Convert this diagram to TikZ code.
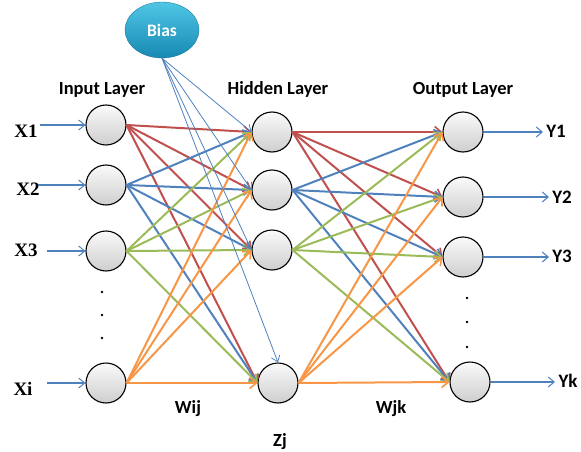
\documentclass[tikz,border=0pt]{standalone}
\usepackage{fontspec}
\setmainfont{Carlito}
\newfontfamily\tnr{Liberation Serif}
\usetikzlibrary{arrows.meta,shapes.geometric}
\definecolor{cred}{HTML}{C0504D}
\definecolor{cblue}{HTML}{4F81BD}
\definecolor{cgreen}{HTML}{9BBB59}
\definecolor{corange}{HTML}{F79646}
\definecolor{biastop}{HTML}{4FC6E6}
\definecolor{biasbot}{HTML}{1789B2}
\begin{document}
\begin{tikzpicture}[x=1pt,y=-1pt,
  neuron/.style={circle, draw=black, line width=1.1pt, minimum size=40pt, inner sep=0pt, top color=gray!4, bottom color=gray!38},
  wedge/.style={line width=2pt, -{Straight Barb[length=6.5pt,width=11pt,line width=1.6pt]}},
  biasline/.style={cblue, line width=0.8pt, -{Straight Barb[length=6pt,width=9pt,line width=0.8pt]}},
  ioline/.style={cblue, line width=1.1pt, -{Straight Barb[length=6pt,width=10pt,line width=1pt]}},
  title/.style={anchor=base, font=\bfseries\fontsize{18.5}{20}\selectfont, inner sep=0pt},
  xlab/.style={font=\tnr\bfseries\fontsize{19}{20}\selectfont, inner sep=0pt},
  ylab/.style={font=\bfseries\fontsize{19}{20}\selectfont, inner sep=0pt},
  vdot/.style={circle, fill=black, inner sep=0pt, minimum size=2.8pt}]
\useasboundingbox (0,0) rectangle (581,452);
% neurons
\node[neuron] (i1) at (106,125) {};
\node[neuron] (i2) at (106,185) {};
\node[neuron] (i3) at (106,251) {};
\node[neuron] (i4) at (106,383) {};
\node[neuron] (h1) at (272,132) {};
\node[neuron] (h2) at (272,190) {};
\node[neuron] (h3) at (272,250) {};
\node[neuron] (h4) at (278,383) {};
\node[neuron] (o1) at (463,132) {};
\node[neuron] (o2) at (463,197) {};
\node[neuron] (o3) at (463,257) {};
\node[neuron] (o4) at (470,382) {};
% bias
\node[ellipse, minimum width=74pt, minimum height=56pt, inner sep=0pt, top color=biastop, bottom color=biasbot, draw=biasbot!80!black, line width=0.3pt, text=white, font=\bfseries\fontsize{17.5}{18}\selectfont] (bias) at (162,30) {Bias};
% dots
\node[vdot] (d1) at (102,292) {};
\node[vdot] (d2) at (102,315) {};
\node[vdot] (d3) at (102,338) {};
\node[vdot] (e1) at (467,298) {};
\node[vdot] (e2) at (467,322) {};
\node[vdot] (e3) at (467,347) {};
% titles
\node[title] (tin) at (102,95) {Input Layer};
\node[title] (thid) at (278,95) {Hidden Layer};
\node[title] (tout) at (463,95) {Output Layer};
\node[title] (wij) at (188,413) {Wij};
\node[title] (wjk) at (391,413) {Wjk};
\node[title] (zj) at (280,446) {Zj};
% input labels
\node[xlab] (x1) at (26,131) {X1};
\node[xlab] (x2) at (28,189) {X2};
\node[xlab] (x3) at (26,250) {X3};
\node[xlab] (xi) at (23,389) {Xi};
\coordinate (s1) at (40,125);
\coordinate (s2) at (38,185);
\coordinate (s3) at (47,251);
\coordinate (s4) at (47,383);
\foreach \k in {1,...,4} \draw[ioline] (s\k) -- (i\k.west);
% output labels
\node[ylab] (y1) at (556,131) {Y1};
\node[ylab] (y2) at (562,197) {Y2};
\node[ylab] (y3) at (562,256) {Y3};
\node[ylab] (yk) at (568,381) {Yk};
\coordinate (t1) at (543,132);
\coordinate (t2) at (549,197);
\coordinate (t3) at (549,257);
\coordinate (t4) at (555,382);
\foreach \k in {1,...,4} \draw[ioline] (o\k.east) -- (t\k);
% weights input -> hidden
\foreach \i/\c in {1/cred,2/cblue,3/cgreen,4/corange}
  \foreach \j in {1,...,4}
    \draw[wedge,\c] (i\i.east) -- (h\j.west);
% weights hidden -> output
\foreach \i/\c in {1/cred,2/cblue,3/cgreen,4/corange}
  \foreach \j in {1,...,4}
    \draw[wedge,\c] (h\i.east) -- (o\j.west);
% bias lines
\draw[biasline] (bias.south) -- (h1.west);
\draw[biasline] (bias.south) -- (h2.west);
\draw[biasline] (bias.south) -- (h3.west);
\draw[biasline] (bias.south) -- (h4.north);
\end{tikzpicture}
\end{document}
